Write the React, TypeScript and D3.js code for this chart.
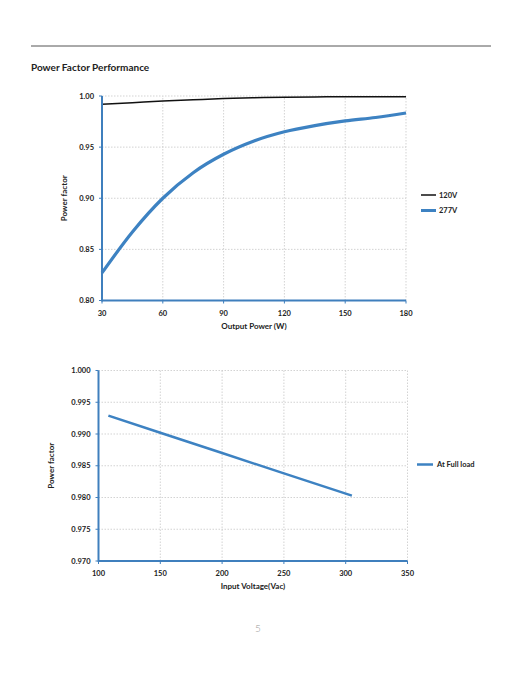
import React from "react";
import * as d3 from "d3";

const titleText = "Power Factor Performance";
const c1Power = [30, 45, 60, 75, 90, 105, 120, 135, 150, 165, 180];
const c1V120 = [0.992, 0.9935, 0.995, 0.9963, 0.9975, 0.9982, 0.9988, 0.9991, 0.9993, 0.9993, 0.9993];
const c1V277 = [0.827, 0.867, 0.9, 0.925, 0.943, 0.956, 0.965, 0.971, 0.9756, 0.979, 0.9834];
const c1XTicks = [30, 60, 90, 120, 150, 180];
const c1YTicks = [0.8, 0.85, 0.9, 0.95, 1.0];
const c1Series = ["120V", "277V"];

const c2Voltage = [108, 150, 200, 250, 305];
const c2PF = [0.9929, 0.9902, 0.987, 0.9838, 0.9803];
const c2XTicks = [100, 150, 200, 250, 300, 350];
const c2YTicks = [0.97, 0.975, 0.98, 0.985, 0.99, 0.995, 1.0];
const c2Series = ["At Full load"];

const AXIS = "#3f7fbd";
const BLUE = "#3d82c2";
const FONT = "Lato, 'Open Sans', sans-serif";
const TXT = "#222";

type ChartProps = {
  x0: number; x1: number; y0: number; y1: number;
  xDomain: [number, number]; yDomain: [number, number];
  xTicks: number[]; yTicks: number[]; yFmt: (v: number) => string;
  xTitle: string; yTitleX: number;
  children: (x: d3.ScaleLinear<number, number>, y: d3.ScaleLinear<number, number>) => React.ReactNode;
};

function Chart(p: ChartProps) {
  const x = d3.scaleLinear().domain(p.xDomain).range([p.x0, p.x1]);
  const y = d3.scaleLinear().domain(p.yDomain).range([p.y0, p.y1]);
  return (
    <g>
      {p.xTicks.map((t) => (
        <line key={"gx" + t} x1={x(t)} x2={x(t)} y1={p.y0} y2={p.y1} stroke="#c8c8c8" strokeWidth={0.8} strokeDasharray="1.5,1.5" />
      ))}
      {p.yTicks.map((t) => (
        <line key={"gy" + t} x1={p.x0} x2={p.x1} y1={y(t)} y2={y(t)} stroke="#c8c8c8" strokeWidth={0.8} strokeDasharray="1.5,1.5" />
      ))}
      {p.children(x, y)}
      <line x1={p.x0} x2={p.x1} y1={p.y0} y2={p.y0} stroke={AXIS} strokeWidth={2} />
      <line x1={p.x0} x2={p.x0} y1={p.y0 + 1} y2={p.y1} stroke={AXIS} strokeWidth={2} />
      {p.xTicks.map((t) => (
        <g key={"tx" + t}>
          <line x1={x(t)} x2={x(t)} y1={p.y0} y2={p.y0 + 3} stroke={AXIS} strokeWidth={1} />
          <text x={x(t)} y={p.y0 + 15} textAnchor="middle" fontSize={7.5} fontWeight={700} fill={TXT} fontFamily={FONT}>{t}</text>
        </g>
      ))}
      {p.yTicks.map((t) => (
        <g key={"ty" + t}>
          <line x1={p.x0 - 3} x2={p.x0} y1={y(t)} y2={y(t)} stroke={AXIS} strokeWidth={1} />
          <text x={p.x0 - 8} y={y(t) + 2.5} textAnchor="end" fontSize={7.5} fontWeight={700} fill={TXT} fontFamily={FONT}>{p.yFmt(t)}</text>
        </g>
      ))}
      <text x={(p.x0 + p.x1) / 2} y={p.y0 + 28} textAnchor="middle" fontSize={8} fontWeight={700} fill={TXT} fontFamily={FONT}>{p.xTitle}</text>
      <text transform={`translate(${p.yTitleX},${(p.y0 + p.y1) / 2}) rotate(-90)`} textAnchor="middle" fontSize={8} fontWeight={700} fill={TXT} fontFamily={FONT}>Power factor</text>
    </g>
  );
}

export default function App() {
  const mkLine = (xs: number[], ys: number[], x: any, y: any, curve: any) =>
    d3.line<number>().x((_, i) => x(xs[i])).y((d) => y(d)).curve(curve)(ys) || "";
  return (
    <svg width={522} height={676} style={{ position: "absolute", left: 0, top: 0, background: "#fff" }}>
      <line x1={31} x2={491} y1={46} y2={46} stroke="#555" strokeWidth={1} />
      <text x={31} y={71} fontSize={10} fontWeight={700} fill={TXT} fontFamily={FONT}>{titleText}</text>

      <Chart x0={102} x1={406} y0={300.5} y1={96} xDomain={[30, 180]} yDomain={[0.8, 1.0]}
        xTicks={c1XTicks} yTicks={c1YTicks} yFmt={(v) => v.toFixed(2)} xTitle="Output Power (W)" yTitleX={67}>
        {(x, y) => (
          <g>
            <path d={mkLine(c1Power, c1V120, x, y, d3.curveMonotoneX)} fill="none" stroke="#111" strokeWidth={1.5} />
            <path d={mkLine(c1Power, c1V277, x, y, d3.curveMonotoneX)} fill="none" stroke={BLUE} strokeWidth={3.2} />
          </g>
        )}
      </Chart>
      <line x1={421} x2={436} y1={195} y2={195} stroke="#111" strokeWidth={1.5} />
      <text x={439} y={197.5} fontSize={7.5} fontWeight={700} fill={TXT} fontFamily={FONT}>{c1Series[0]}</text>
      <line x1={421} x2={436} y1={210.5} y2={210.5} stroke={BLUE} strokeWidth={3} />
      <text x={439} y={213} fontSize={7.5} fontWeight={700} fill={TXT} fontFamily={FONT}>{c1Series[1]}</text>

      <Chart x0={98.5} x1={407.5} y0={561} y1={370.5} xDomain={[100, 350]} yDomain={[0.97, 1.0]}
        xTicks={c2XTicks} yTicks={c2YTicks} yFmt={(v) => v.toFixed(3)} xTitle="Input Voltage(Vac)" yTitleX={54}>
        {(x, y) => (
          <path d={mkLine(c2Voltage, c2PF, x, y, d3.curveLinear)} fill="none" stroke={BLUE} strokeWidth={2.5} />
        )}
      </Chart>
      <line x1={417} x2={433} y1={464.5} y2={464.5} stroke={BLUE} strokeWidth={2.5} />
      <text x={437} y={467} fontSize={7.5} fontWeight={700} fill={TXT} fontFamily={FONT}>{c2Series[0]}</text>

      <text x={255} y={632} fontSize={10} fill="#999" fontFamily={FONT} fontWeight={300}>5</text>
    </svg>
  );
}
